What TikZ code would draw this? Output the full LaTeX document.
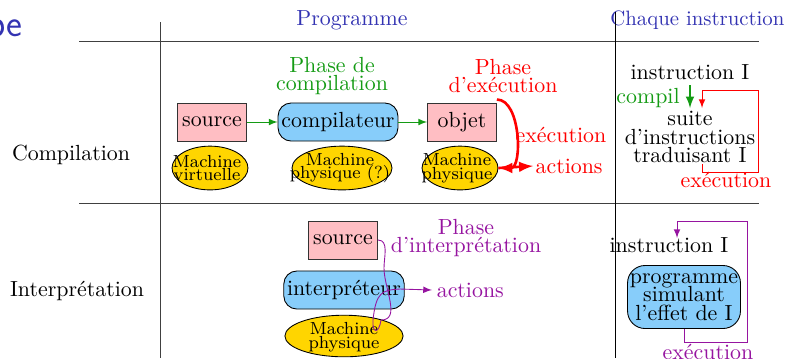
\documentclass[tikz,border=0pt]{standalone}
\usepackage{amssymb}
\usepackage{amsmath}
\usetikzlibrary{shapes.geometric}

\definecolor{titleblue}{rgb}{0.2,0.2,0.7}
\definecolor{phgreen}{RGB}{20,155,20}
\definecolor{phpurple}{RGB}{150,20,160}
\definecolor{boxpink}{RGB}{255,190,195}
\definecolor{boxblue}{RGB}{135,205,250}
\definecolor{machgold}{RGB}{255,213,0}

\tikzset{
  boxed/.style={draw=black!80,fill=boxpink,minimum width=31.5pt,minimum height=17.4pt,inner sep=1pt},
  rounded/.style={draw=black,fill=boxblue,rounded corners=6pt,minimum height=17.4pt,inner sep=1.5pt},
  machine/.style={draw=black,fill=machgold,ellipse,inner sep=0pt},
  machtxt/.style={font={\fontsize{8}{6.3}\selectfont\lineskiplimit=-5pt},align=center,inner sep=0pt},
  lines/.style={align=center,font={\fontsize{10}{8.4}\selectfont\lineskiplimit=-5pt}},
  title/.style={text=titleblue},
  rule/.style={black!75,thin}
}

\begin{document}
\begin{tikzpicture}[x=0.457pt,y=-0.457pt]
\useasboundingbox (0,0) rectangle (794,358);
% Title fragment and headings
\node[anchor=base east,text=titleblue,font=\LARGE\sffamily,inner sep=0pt] (ttl) at (23,36) {pe};
\node[title] (prog) at (352,20) {Programme};
\node[title,anchor=west,scale=0.95,inner sep=0pt] (chq) at (610,20) {Chaque instruction};
% Table rules
\draw[rule] (79,41)--(759,41);
\draw[rule] (79,203)--(759,203);
\draw[rule] (160,22)--(160,358);
\draw[black,thin] (615,12)--(615,358);
% Row labels
\node (rcomp) at (71,155) {Compilation};
\node (rinter) at (77,291) {Interpr\'etation};

% Compilation row
\node[lines,text=phgreen] (phc) at (332,76) {Phase de\\compilation};
\node[lines,text=red] (phe) at (503,76) {Phase\\d'ex\'ecution};
\node[boxed] (src) at (212,122) {source};
\node[rounded,minimum width=54.8pt] (comp) at (338,122) {compilateur};
\node[boxed] (obj) at (462,122) {objet};
\draw[phgreen,->,>=latex] (src)--(comp);
\draw[phgreen,->,>=latex] (comp)--(obj);
\node[machine,minimum width=34.7pt,minimum height=20pt] (mv) at (210,168) {};
\node[machtxt] (mvt) at (207,168) {Machine\\virtuelle};
\node[machine,minimum width=45.7pt,minimum height=20pt] (mp1) at (342,168) {};
\node[machtxt] (mp1t) at (340,168) {Machine\\physique (?)};
\node[machine,minimum width=34.7pt,minimum height=20pt] (mp2) at (460,168) {};
\node[machtxt] (mp2t) at (457,168) {Machine\\physique};
\draw[red,very thick,->,>=latex] (obj.north east) ++(0,-3) to[out=0,in=0,looseness=0.9] (mp2.east);
\node[text=red,anchor=west,inner sep=1pt] (exec1) at (513,135) {ex\'ecution};
\coordinate (act1) at (533,166);
\draw[red,very thick,->,>=latex] (mp2.east)--(act1);
\node[text=red,anchor=west,inner sep=1pt] (acttxt1) at (act1) {actions};

% Each instruction, compiled
\node (ins1) at (690,72) {instruction I};
\node[lines] (suite) at (690,137) {suite\\d'instructions\\traduisant I};
\node[text=phgreen] (cpl) at (648,98) {compil};
\draw[phgreen,thick,->,>=latex] (690,85)--(690,108);
\coordinate (ex1a) at (702,164);
\draw[red,->,>=latex] (ex1a)--(702,172)--(758,172)--(758,90)--(702,90)--(702,108);
\node[text=red] (exec2) at (726,180) {ex\'ecution};

% Interpretation row
\node[lines,text=phpurple] (phi) at (466,238) {Phase\\d'interpr\'etation};
\node[boxed] (src2) at (343,240) {source};
\node[rounded,minimum width=54pt] (intp) at (344,290) {interpr\'eteur};
\node[machine,minimum width=54pt,minimum height=19pt] (mp3) at (344,336) {};
\node[machtxt] (mp3t) at (344,337) {Machine\\physique};
\coordinate (act2) at (432,290);
\draw[phpurple,->,>=latex] (src2.east) to[out=0,in=90] (384,268) to[out=-90,in=0] (381,320)
  .. controls (379,334) and (372,334) .. (373,320)
  .. controls (376,292) and (382,290) .. (400,289) -- (act2);
\node[text=phpurple,anchor=west,inner sep=2pt] (acttxt2) at (act2) {actions};

% Each instruction, interpreted
\node (ins2) at (669,245) {instruction I};
\node[rounded,lines,rounded corners=8pt,minimum width=51.6pt,minimum height=28.8pt,inner sep=0pt] (simu) at (684,297) {programme\\simulant\\l'effet de I};
\draw[phpurple,->,>=latex] (simu.south)--(684,342)--(747,342)--(747,221)--(677,221)--(677,238);
\node[text=phpurple] (exec3) at (708,352) {ex\'ecution};
\end{tikzpicture}
\end{document}
